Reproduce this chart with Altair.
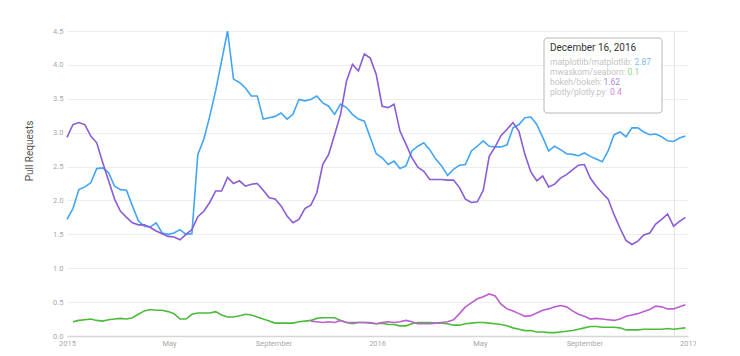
import altair as alt
import pandas as pd

# ---------------- data ----------------
start_date = "2015-01-01"
n_weeks = 105
dates = pd.date_range(start_date, periods=n_weeks, freq="7D").strftime("%Y-%m-%d").tolist()

series_names = ["matplotlib/matplotlib", "mwaskom/seaborn", "bokeh/bokeh", "plotly/plotly.py"]
series_colors = ["#42a5f5", "#4cbb3a", "#8a5cd8", "#bb5fd1"]
value_colors = ["#7dbdf5", "#8fd37c", "#a78be2", "#cc8bdc"]

matplotlib_vals = [
    1.72, 1.88, 2.16, 2.20, 2.26, 2.47, 2.48, 2.41, 2.21, 2.16, 2.15, 1.92, 1.70, 1.62, 1.61,
    1.67, 1.52, 1.50, 1.52, 1.57, 1.50, 1.51, 2.68, 2.90, 3.24, 3.62,
    4.06, 4.50, 3.79, 3.74, 3.66, 3.54, 3.54, 3.20, 3.22, 3.24, 3.29, 3.20, 3.27, 3.49, 3.47,
    3.49, 3.54, 3.44, 3.39, 3.27, 3.42, 3.37, 3.27, 3.20, 3.17, 2.93,
    2.69, 2.63, 2.53, 2.58, 2.47, 2.51, 2.73, 2.80, 2.85, 2.75, 2.61, 2.51, 2.37, 2.46, 2.52,
    2.53, 2.73, 2.80, 2.88, 2.80, 2.79, 2.79, 2.82, 3.07, 3.12, 3.22,
    3.23, 3.12, 2.93, 2.73, 2.80, 2.75, 2.69, 2.68, 2.66, 2.70, 2.65, 2.61, 2.57, 2.73, 2.97,
    3.01, 2.94, 3.07, 3.07, 3.01, 2.97, 2.98, 2.94, 2.88, 2.87, 2.92, 2.95,
]
seaborn_vals = [
    None, 0.21, 0.23, 0.24, 0.25, 0.23, 0.22, 0.24, 0.25, 0.26, 0.25, 0.27, 0.32, 0.37, 0.39,
    0.38, 0.38, 0.36, 0.33, 0.25, 0.25, 0.32, 0.34, 0.34, 0.34, 0.36,
    0.31, 0.28, 0.28, 0.30, 0.32, 0.31, 0.28, 0.25, 0.22, 0.19, 0.19, 0.19, 0.19, 0.21, 0.22,
    0.23, 0.26, 0.27, 0.27, 0.27, 0.23, 0.20, 0.18, 0.20, 0.20, 0.20,
    0.18, 0.19, 0.17, 0.17, 0.15, 0.15, 0.18, 0.20, 0.20, 0.20, 0.19, 0.19, 0.18, 0.16, 0.16,
    0.18, 0.19, 0.20, 0.20, 0.19, 0.18, 0.17, 0.15, 0.12, 0.10, 0.08,
    0.08, 0.06, 0.06, 0.05, 0.05, 0.06, 0.07, 0.08, 0.10, 0.12, 0.14, 0.14, 0.13, 0.13, 0.13,
    0.12, 0.09, 0.09, 0.09, 0.10, 0.10, 0.10, 0.10, 0.11, 0.10, 0.11, 0.12,
]
bokeh_vals = [
    2.93, 3.12, 3.15, 3.12, 2.95, 2.85, 2.56, 2.29, 2.02, 1.84, 1.75, 1.67, 1.64, 1.64, 1.60,
    1.55, 1.51, 1.47, 1.46, 1.42, 1.50, 1.57, 1.76, 1.84, 1.97, 2.14,
    2.14, 2.34, 2.25, 2.29, 2.21, 2.24, 2.25, 2.15, 2.04, 2.02, 1.92, 1.77, 1.67, 1.72, 1.88,
    1.93, 2.11, 2.53, 2.68, 2.97, 3.27, 3.76, 4.01, 3.91, 4.16, 4.10,
    3.86, 3.39, 3.37, 3.42, 3.02, 2.83, 2.63, 2.49, 2.43, 2.31, 2.31, 2.31, 2.30, 2.30, 2.19,
    2.02, 1.97, 1.98, 2.15, 2.65, 2.79, 2.96, 3.05, 3.15, 3.02, 2.68,
    2.42, 2.29, 2.36, 2.20, 2.24, 2.33, 2.38, 2.45, 2.52, 2.53, 2.33, 2.21, 2.11, 2.02, 1.79,
    1.59, 1.41, 1.35, 1.40, 1.49, 1.52, 1.65, 1.72, 1.80, 1.62, 1.69, 1.75,
]
plotly_vals = [None] * 41 + [
    0.22, 0.21, 0.20, 0.21, 0.20, 0.23, 0.20, 0.20, 0.20, 0.20, 0.19,
    0.18, 0.20, 0.21, 0.20, 0.21, 0.23, 0.21, 0.18, 0.18, 0.18, 0.19, 0.20, 0.21, 0.24, 0.33,
    0.43, 0.49, 0.55, 0.58, 0.62, 0.59, 0.47, 0.40, 0.37, 0.33, 0.29,
    0.30, 0.34, 0.38, 0.40, 0.43, 0.45, 0.43, 0.37, 0.32, 0.29, 0.25, 0.26, 0.25, 0.24, 0.23,
    0.25, 0.29, 0.31, 0.33, 0.36, 0.39, 0.44, 0.43, 0.40, 0.40, 0.43, 0.46,
]

y_ticks = [0.0, 0.5, 1.0, 1.5, 2.0, 2.5, 3.0, 3.5, 4.0, 4.5]
x_tick_dates = [(2015, 1), (2015, 5), (2015, 9), (2016, 1), (2016, 5), (2016, 9), (2017, 1)]

hover_date = "2016-12-16"
hover_title = "December 16, 2016"
hover_values = ["2.87", "0.1", "1.62", "0.4"]

# ---------------- build ----------------
rows = []
for name, vals in zip(series_names, [matplotlib_vals, seaborn_vals, bokeh_vals, plotly_vals]):
    for d, v in zip(dates, vals):
        if v is not None:
            rows.append({"date": d, "repo": name, "value": v})
df = pd.DataFrame(rows)

FONT = "Roboto"

x_enc = alt.X(
    "date:T",
    scale=alt.Scale(
        type="utc",
        domain=[alt.DateTime(year=2015, month=1, date=1, utc=True),
                alt.DateTime(year=2017, month=1, date=1, utc=True)],
    ),
    axis=alt.Axis(
        values=[alt.DateTime(year=y, month=m, date=1, utc=True) for y, m in x_tick_dates],
        title=None, grid=False, ticks=False, labelFlush=False, labelPadding=3,
        labelFontSize=7.5, labelColor="#a8a8a8", domainColor="#d6d6d6", domainWidth=1.5,
        labelFont=FONT,
    ),
)
y_enc = alt.Y(
    "value:Q",
    scale=alt.Scale(domain=[0, 4.5], nice=False, zero=True),
    axis=alt.Axis(
        values=y_ticks, format=".1f", title="Pull Requests", grid=True, gridColor="#eeeeee",
        ticks=False, domain=False, labelPadding=4, labelFontSize=7.5, labelColor="#a8a8a8",
        labelFont=FONT, titleFont=FONT, titleFontSize=10, titleFontWeight="normal",
        titleColor="#555555", titleX=-37.5, titleY=119.5, titleAngle=270,
        titleAlign="center", titleBaseline="middle",
    ),
)

lines = alt.Chart(df).mark_line(strokeWidth=1.6).encode(
    x=x_enc,
    y=y_enc,
    color=alt.Color("repo:N", scale=alt.Scale(domain=series_names, range=series_colors), legend=None),
    detail="repo:N",
)

rule = alt.Chart(pd.DataFrame({"date": [hover_date]})).mark_rule(
    color="#e3e3e3", strokeWidth=1
).encode(x="date:T")

one = pd.DataFrame({"a": [0]})
box = alt.Chart(one).mark_rect(
    fill="white", stroke="#b8b8b8", strokeWidth=1, cornerRadius=3
).encode(x=alt.value(477), x2=alt.value(595), y=alt.value(7), y2=alt.value(82))

title_txt = alt.Chart(one).mark_text(
    align="left", baseline="middle", fontSize=10, font=FONT, color="#333333"
).encode(x=alt.value(483), y=alt.value(17), text=alt.value(hover_title))

layers = [rule, lines, box, title_txt]
row_y = [31, 41, 51, 61]
value_x = [567.5, 560.5, 536.5, 543]
for name, val, col, yy, vx in zip(series_names, hover_values, value_colors, row_y, value_x):
    lab = alt.Chart(one).mark_text(
        align="left", baseline="middle", fontSize=8.5, font=FONT, color="#c4c4c4"
    ).encode(x=alt.value(483), y=alt.value(yy), text=alt.value(f"{name}:"))
    num = alt.Chart(one).mark_text(
        align="left", baseline="middle", fontSize=8.5, font=FONT, color=col
    ).encode(x=alt.value(vx), y=alt.value(yy), text=alt.value(val))
    layers += [lab, num]

chart = alt.layer(*layers).properties(
    width=621, height=305,
    autosize=alt.AutoSizeParams(type="none"),
    padding={"left": 59, "top": 23, "right": 8, "bottom": 12},
    background="white",
).configure_view(stroke=None)

chart.save("out.html", embed_options={"renderer": "svg", "actions": False})
